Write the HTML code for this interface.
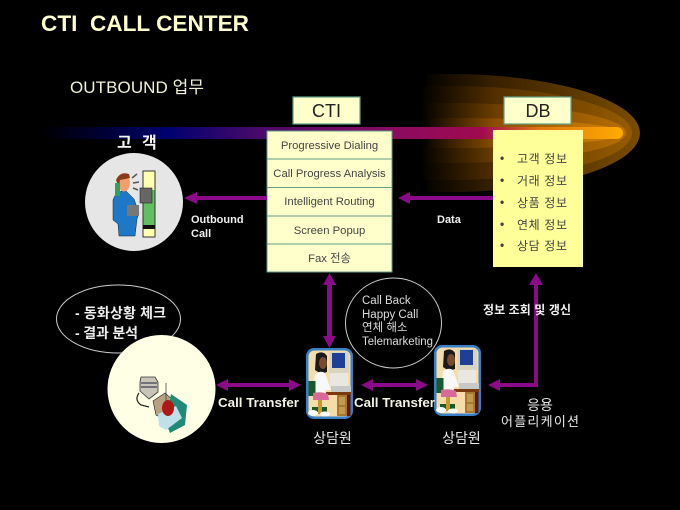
<!DOCTYPE html>
<html><head><meta charset="utf-8"><style>
html,body{margin:0;padding:0;background:#000;width:680px;height:510px;overflow:hidden}
svg{display:block;filter:blur(.3px)}
text{font-family:"Liberation Sans","Noto Sans CJK KR",sans-serif}
</style></head><body>
<svg width="680" height="510" viewBox="0 0 680 510" xmlns="http://www.w3.org/2000/svg">
<defs>
<linearGradient id="bar" x1="40" x2="622" y1="0" y2="0" gradientUnits="userSpaceOnUse">
<stop offset="0" stop-color="#000"/><stop offset=".1" stop-color="#000030"/><stop offset=".22" stop-color="#000070"/><stop offset=".38" stop-color="#4a0a6a"/><stop offset=".6" stop-color="#8a0a60"/><stop offset=".76" stop-color="#a00a50"/><stop offset=".86" stop-color="#e07a10"/><stop offset="1" stop-color="#ffaa00"/>
</linearGradient>
<linearGradient id="g1" x1="420" x2="640" y1="0" y2="0" gradientUnits="userSpaceOnUse"><stop offset="0" stop-color="#000"/><stop offset=".35" stop-color="#3a2200"/><stop offset="1" stop-color="#7a4c00"/></linearGradient>
<linearGradient id="g2" x1="420" x2="640" y1="0" y2="0" gradientUnits="userSpaceOnUse"><stop offset="0" stop-color="#000"/><stop offset=".35" stop-color="#553000"/><stop offset="1" stop-color="#9a5e00"/></linearGradient>
<linearGradient id="g3" x1="420" x2="640" y1="0" y2="0" gradientUnits="userSpaceOnUse"><stop offset="0" stop-color="#000"/><stop offset=".35" stop-color="#6e3f00"/><stop offset="1" stop-color="#c07400"/></linearGradient>
<linearGradient id="g4" x1="420" x2="640" y1="0" y2="0" gradientUnits="userSpaceOnUse"><stop offset="0" stop-color="#000"/><stop offset=".35" stop-color="#8f5000"/><stop offset="1" stop-color="#e08a00"/></linearGradient>
<g id="agent">
<rect x="0" y="0" width="47" height="71" rx="8" fill="#3a80c4"/>
<rect x="2.500" y="2.500" width="42" height="66" rx="6" fill="#f5dca8"/>
<rect x="36" y="44" width="8.500" height="24" fill="#5a1a10"/>
<rect x="23" y="4" width="20" height="21" fill="#d8d4c0"/>
<rect x="26" y="5" width="13" height="15" fill="#1f3f96"/>
<rect x="24" y="25" width="18" height="14" fill="#e8e8e0"/>
<rect x="25" y="38" width="20" height="6" fill="#c8c8c8"/>
<rect x="20" y="44" width="25" height="3" fill="#7a3a10"/>
<rect x="31" y="47" width="10" height="21" fill="#a87830"/>
<rect x="33" y="49" width="6" height="8" fill="#c49a50"/><rect x="33" y="59" width="6" height="7" fill="#c49a50"/>
<path d="M10 6 q7 -4 11 2 v16 l-6 2 l-6 -4z" fill="#1a1a1a"/>
<ellipse cx="17" cy="15" rx="4" ry="6" fill="#7a4a2a"/>
<path d="M9 26 q6 -4 10 -1 l6 17 h-5 l-1 3 h-12z" fill="#f8f8f8"/>
<rect x="2.500" y="33" width="7" height="15" fill="#1a5a2a"/>
<path d="M7 45 q8 -2 15 1 l1 6 h-16z" fill="#d86a9a"/>
<rect x="6" y="59" width="15" height="5" fill="#1a5a2a"/>
<rect x="12" y="52" width="4" height="14" fill="#c49a30"/>
<ellipse cx="7" cy="65" rx="5" ry="3" fill="#fff"/><ellipse cx="19" cy="66" rx="5" ry="2.500" fill="#fff"/>
</g>
</defs>
<rect width="680" height="510" fill="#000"/>

<text x="41" y="31" font-size="22" font-weight="700" fill="#ffffcc" textLength="208" lengthAdjust="spacingAndGlyphs" xml:space="preserve">CTI  CALL CENTER</text>
<text x="70" y="93" font-size="17" fill="#f0f0d8" textLength="134">OUTBOUND 업무</text>

<!-- glow -->
<path d="M427 74 H450 A190 59 0 0 1 450 192 H427 Z" fill="url(#g1)"/>
<path d="M423 86 H450 A182 47 0 0 1 450 180 H423 Z" fill="url(#g2)"/>
<path d="M419 103 H450 A176 30 0 0 1 450 163 H419 Z" fill="url(#g3)"/>
<path d="M430 118 H450 A173 15 0 0 1 450 148 H430 Z" fill="url(#g4)"/>
<path d="M40 127 H617 a6 6 0 0 1 0 12 H40 Z" fill="url(#bar)"/>

<!-- top boxes -->
<rect x="293" y="97" width="67" height="27" fill="#ffffcc" stroke="#5f9f86" stroke-width="1.200"/>
<text x="326.500" y="117" font-size="18" fill="#222" text-anchor="middle">CTI</text>
<rect x="504" y="97" width="67" height="27" fill="#ffffcc" stroke="#5f9f86" stroke-width="1.200"/>
<text x="538" y="117" font-size="18" fill="#222" text-anchor="middle">DB</text>

<!-- CTI table -->
<rect x="267" y="131" width="125" height="141" fill="#ffffcc" stroke="#5f9f86" stroke-width="1"/>
<path d="M267 159H392M267 187.500H392M267 216H392M267 244H392" stroke="#5f9f86" stroke-width="1"/>
<g font-size="11.300" fill="#444" text-anchor="middle">
<text x="329.500" y="149">Progressive Dialing</text>
<text x="329.500" y="177">Call Progress Analysis</text>
<text x="329.500" y="205">Intelligent Routing</text>
<text x="329.500" y="234">Screen Popup</text>
<text x="329.500" y="262">Fax 전송</text>
</g>

<!-- DB list -->
<rect x="493" y="130" width="90" height="137" fill="#ffff99"/>
<g font-size="12" fill="#444">
<text x="500" y="162" font-weight="700">•</text><text x="517" y="163" textLength="50">고객 정보</text>
<text x="500" y="184" font-weight="700">•</text><text x="517" y="185" textLength="50">거래 정보</text>
<text x="500" y="206" font-weight="700">•</text><text x="517" y="207" textLength="50">상품 정보</text>
<text x="500" y="228" font-weight="700">•</text><text x="517" y="229" textLength="50">연체 정보</text>
<text x="500" y="249" font-weight="700">•</text><text x="517" y="250" textLength="50">상담 정보</text>
</g>

<!-- customer -->
<text x="117" y="148" font-size="16" font-weight="700" fill="#f4f4f4">고</text>
<text x="142" y="148" font-size="16" font-weight="700" fill="#f4f4f4">객</text>
<circle cx="134" cy="202" r="49" fill="#e6e6e6"/>
<rect x="143" y="171" width="12" height="66" fill="#ffffb0" stroke="#333" stroke-width="1"/>
<rect x="143.500" y="190" width="11" height="35" fill="#60c060"/>
<rect x="143" y="225" width="12" height="4" fill="#111"/>
<rect x="140" y="188" width="12" height="15" fill="#666" stroke="#222" stroke-width=".6"/>
<path d="M113 200 q3 -10 13 -9 l8 8 l5 14 l-2 6 l-2 17 h-16 l-1 -12 l-5 -4z" fill="#1e78c8" stroke="#123" stroke-width=".5"/>
<ellipse cx="124" cy="183" rx="6" ry="8.500" fill="#f0a070"/>
<path d="M116 180 q4 -9 13 -6 l1 4 l-10 2 l-1 8z" fill="#8a3a1a"/>
<rect x="115" y="183" width="5" height="13" fill="#30a060"/>
<rect x="127" y="205" width="12" height="11" fill="#777"/>
<path d="M132 178l5-4M133 183l6-1M133 188l5 2" stroke="#555" stroke-width="1.500"/>

<!-- arrows -->
<g fill="#8a0a8a">
<path d="M267 196H197V192L184 198L197 204V200H267Z"/>
<path d="M493 196H410V192L398 198L410 204V200H493Z"/>
<path d="M327 285H323L329.500 273L336 285H332V336H336L329.500 348L323 336H327Z"/>
<path d="M228 383V379L216 385L228 391V387H289V391L301 385L289 379V383Z"/>
<path d="M373 383V379L361 385L373 391V387H416V391L428 385L416 379V383Z"/>
<path d="M534 285H529L536 273L543 285H538V387H500V391L488 385L500 379V383H534Z"/>
</g>

<!-- ellipses -->
<ellipse cx="118.500" cy="319" rx="62" ry="34" fill="none" stroke="#ccc" stroke-width="1"/>
<ellipse cx="393.500" cy="323" rx="48" ry="45" fill="none" stroke="#ccc" stroke-width="1"/>

<text x="75" y="318" font-size="14" font-weight="700" fill="#eee" textLength="91">- 동화상황 체크</text>
<text x="75" y="338" font-size="14" font-weight="700" fill="#eee" textLength="63">- 결과 분석</text>

<!-- supervisor circle -->
<circle cx="161.500" cy="389" r="54" fill="#ffffe6"/>
<path d="M141 377 h14 l3 5 v10 l-9 7 l-9 -8 v-9z" fill="#c8c4b8" stroke="#333" stroke-width=".8"/>
<path d="M141 383h16M141 387h16" stroke="#556" stroke-width="1.500"/>
<path d="M139 393 q-5 7 2 12 l8 2" fill="none" stroke="#222" stroke-width="1.200"/>
<path d="M153 401 l12 -8 l9 8 l-6 20 l-12 -6z" fill="#b8a080" stroke="#222" stroke-width=".6"/>
<path d="M166 383 V428" stroke="#444" stroke-width=".8"/>
<path d="M171 394 l16 11 l-2 20 l-15 8 l-4 -10z" fill="#1f8a78"/>
<path d="M158 414 l18 -8 l6 12 l-16 12 l-7 -4z" fill="#bfe0e8"/>
<ellipse cx="168" cy="408" rx="6" ry="8" fill="#b01818"/>

<!-- agents -->
<use href="#agent" x="306" y="348"/>
<use href="#agent" x="434" y="345"/>

<!-- labels -->
<g font-size="11" font-weight="700" fill="#f0f0f0">
<text x="191" y="223">Outbound</text>
<text x="191" y="237">Call</text>
<text x="437" y="223">Data</text>
</g>
<g font-size="13" font-weight="700" fill="#f4f4e4">
<text x="218" y="407" textLength="81" lengthAdjust="spacingAndGlyphs">Call Transfer</text>
<text x="354" y="407" textLength="81" lengthAdjust="spacingAndGlyphs">Call Transfer</text>
</g>
<g font-size="11.500" fill="#ddd">
<text x="362" y="304">Call Back</text>
<text x="362" y="318">Happy Call</text>
<text x="362" y="331">연체 해소</text>
<text x="362" y="345" textLength="71" lengthAdjust="spacingAndGlyphs">Telemarketing</text>
</g>
<text x="483" y="314" font-size="12" font-weight="700" fill="#f0f0f0" textLength="88">정보 조회 및 갱신</text>
<text x="540" y="410" font-size="14" fill="#e8e8e8" text-anchor="middle">응용</text>
<text x="540" y="426" font-size="13" fill="#e8e8e8" text-anchor="middle" textLength="78">어플리케이션</text>
<text x="332.500" y="443" font-size="14" fill="#e8e8e8" text-anchor="middle">상담원</text>
<text x="461.500" y="443" font-size="14" fill="#e8e8e8" text-anchor="middle">상담원</text>
</svg>
</body></html>
